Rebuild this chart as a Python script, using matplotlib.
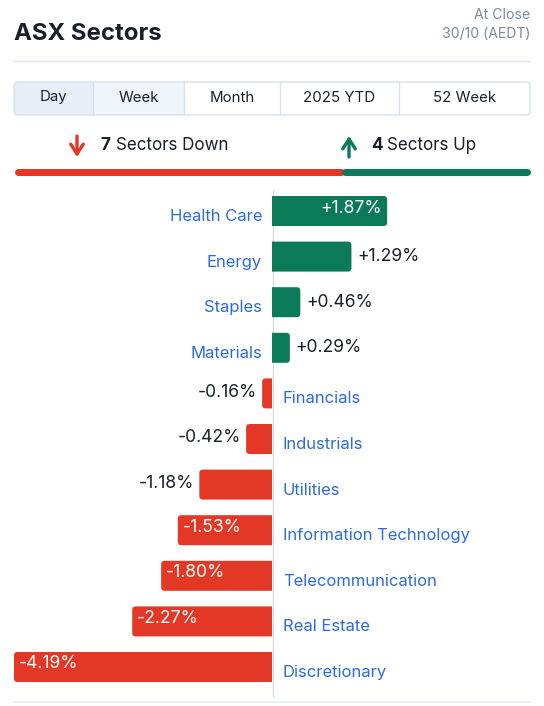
import matplotlib
matplotlib.use("Agg")
import matplotlib.pyplot as plt
from matplotlib.patches import FancyBboxPatch, Rectangle, PathPatch
from matplotlib.path import Path

# data
sectors = ["Health Care", "Energy", "Staples", "Materials", "Financials", "Industrials",
           "Utilities", "Information Technology", "Telecommunication", "Real Estate",
           "Discretionary"]
changes = [1.87, 1.29, 0.46, 0.29, -0.16, -0.42, -1.18, -1.53, -1.80, -2.27, -4.19]
tabs = ["Day", "Week", "Month", "2025 YTD", "52 Week"]
n_down = sum(1 for v in changes if v < 0)
n_up = sum(1 for v in changes if v > 0)

GREEN = "#0b7a58"
RED = "#e33826"
BLUE = "#2c6bdc"
DARK = "#18202c"
GRAY = "#7b8a9c"
FONT = "Inter"
px = 0.72  # pixels -> points at dpi 100


def end_rounded(x0, y0, w, h, rx, ry):
    # bar outline: square at the zero side, rounded corners at the far end
    a, e = x0, x0 + w
    r = rx if w > 0 else -rx
    r = r if abs(r) < abs(w) / 2 else w / 2
    y1 = y0 + h
    verts = [(a, y0), (e - r, y0), (e, y0), (e, y0 + ry), (e, y1 - ry), (e, y1),
             (e - r, y1), (a, y1), (a, y0)]
    codes = [Path.MOVETO, Path.LINETO, Path.CURVE3, Path.CURVE3, Path.LINETO,
             Path.CURVE3, Path.CURVE3, Path.LINETO, Path.CLOSEPOLY]
    return Path(verts, codes)


fig = plt.figure(figsize=(5.44, 7.06), dpi=100)
bg = fig.add_axes([0, 0, 1, 1])
bg.set_xlim(0, 544)
bg.set_ylim(706, 0)
bg.axis("off")

# header
bg.text(14, 34, "ASX Sectors", fontsize=24 * px, fontweight="bold", color=DARK,
        family=FONT, va="center", ha="left")
bg.text(530, 15, "At Close", fontsize=14 * px, color=GRAY, family=FONT, va="center", ha="right")
bg.text(530, 34, "30/10 (AEDT)", fontsize=14 * px, color=GRAY, family=FONT, va="center", ha="right")
bg.plot([14, 530], [60.5, 60.5], color="#dde7f1", lw=1)

# tab bar
edges = [14, 93, 184, 280, 399, 530]
fills = ["#e7eef7", "#f0f5fb", "white", "white", "white"]
for i, t in enumerate(tabs):
    bg.add_patch(Rectangle((edges[i], 82), edges[i + 1] - edges[i], 33, facecolor=fills[i],
                           edgecolor="none", zorder=1))
    bg.text((edges[i] + edges[i + 1]) / 2, 97.5, t, fontsize=15 * px, color=DARK, family=FONT,
            ha="center", va="center", zorder=3)
    if i > 0:
        bg.plot([edges[i], edges[i]], [82, 115], color="#d7e1ec", lw=1, zorder=2)
bg.add_patch(FancyBboxPatch((14, 82), 516, 33, boxstyle="round,pad=0,rounding_size=4",
                            facecolor="none", edgecolor="#d7e1ec", lw=1, zorder=2))

# up/down summary
arrow = "->,head_length=0.7,head_width=0.45"
bg.annotate("", xy=(77, 157), xytext=(77, 136),
            arrowprops=dict(arrowstyle=arrow, color=RED, lw=2.4, shrinkA=0, shrinkB=0))
bg.text(100, 146, str(n_down), fontsize=17 * px, fontweight="bold", color=DARK, family=FONT,
        va="center", ha="left")
bg.text(116, 146, "Sectors Down", fontsize=17 * px, color=DARK, family=FONT, va="center", ha="left")
bg.annotate("", xy=(349, 136), xytext=(349, 157),
            arrowprops=dict(arrowstyle=arrow, color=GREEN, lw=2.4, shrinkA=0, shrinkB=0))
bg.text(371, 146, str(n_up), fontsize=17 * px, fontweight="bold", color=DARK, family=FONT,
        va="center", ha="left")
bg.text(387, 146, "Sectors Up", fontsize=17 * px, color=DARK, family=FONT, va="center", ha="left")

split = 14 + 516 * n_down / (n_down + n_up)
bg.plot([17.5, split - 1.5], [171.5, 171.5], color=RED, lw=7 * px, solid_capstyle="round")
bg.plot([split + 2.5, 526.5], [171.5, 171.5], color=GREEN, lw=7 * px, solid_capstyle="round")

# axis line + bottom rule
bg.plot([272.5, 272.5], [190, 697], color="#d9dde2", lw=1, zorder=1)
bg.plot([14, 530], [702, 702], color="#e3eef9", lw=1.2)

# bars
ax = fig.add_axes([14 / 544, 1 - 689.8 / 706, 516 / 544, (689.8 - 188.2) / 706])
ax.patch.set_alpha(0)
ax.set_xlim(-4.19, 4.19)
ax.set_ylim(10.5, -0.5)
ax.axis("off")

colors = [GREEN if v > 0 else RED for v in changes]
bars = ax.barh(range(len(changes)), changes, height=0.658, color=colors)
for b, c in zip(bars, colors):
    p = end_rounded(b.get_x(), b.get_y(), b.get_width(), b.get_height(), 0.057, 0.077)
    ax.add_patch(PathPatch(p, facecolor=c, edgecolor="none"))
    b.set_visible(False)

cat_size = 16.6 * px
val_size = 17.5 * px
for i, (name, v) in enumerate(zip(sectors, changes)):
    label = f"{v:+.2f}%"
    if v > 0:
        ax.annotate(name, (0, i), xytext=(-10 * px, -5.5 * px), textcoords="offset points",
                    ha="right", va="center", fontsize=cat_size, color=BLUE, family=FONT)
        if abs(v) >= 1.5:
            ax.annotate(label, (v, i), xytext=(-5 * px, 2 * px), textcoords="offset points",
                        ha="right", va="center", fontsize=val_size, color="white", family=FONT)
        else:
            ax.annotate(label, (v, i), xytext=(6 * px, 0), textcoords="offset points",
                        ha="left", va="center", fontsize=val_size, color=DARK, family=FONT)
    else:
        ax.annotate(name, (0, i), xytext=(11 * px, -5.5 * px), textcoords="offset points",
                    ha="left", va="center", fontsize=cat_size, color=BLUE, family=FONT)
        if abs(v) >= 1.5:
            ax.annotate(label, (v, i), xytext=(5 * px, 3 * px), textcoords="offset points",
                        ha="left", va="center", fontsize=val_size, color="white", family=FONT)
        else:
            ax.annotate(label, (v, i), xytext=(-5 * px, 1 * px), textcoords="offset points",
                        ha="right", va="center", fontsize=val_size, color=DARK, family=FONT)

fig.savefig("out.png", dpi=100)
